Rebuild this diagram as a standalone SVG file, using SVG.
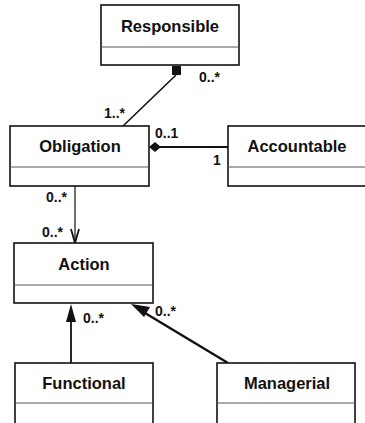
<svg xmlns="http://www.w3.org/2000/svg" width="365" height="423" viewBox="0 0 365 423">
<defs>
<style>
.box{fill:#fff;stroke:#111;stroke-width:1.6}
.div{stroke:#555;stroke-width:1}
.name{font-family:"Liberation Sans",Arial,sans-serif;font-weight:bold;font-size:16.5px;fill:#111;text-anchor:middle}
.mult{font-family:"Liberation Sans",Arial,sans-serif;font-weight:bold;font-size:14px;fill:#111}
.ln{stroke:#111;fill:none}
</style>
</defs>
<rect width="365" height="423" fill="#fff"/>
<g id="connectors">
<line class="ln" x1="176" y1="75" x2="122" y2="127" stroke-width="1.6"/>
<rect x="172" y="66" width="9" height="9" fill="#111"/>
<line class="ln" x1="160" y1="147" x2="228" y2="147" stroke-width="2.2"/>
<polygon points="149,147 155,142 161,147 155,152" fill="#111"/>
<line class="ln" x1="75" y1="186" x2="75" y2="243" stroke-width="1.2"/>
<polyline class="ln" points="71,229 75,243 79,229" stroke-width="1.8"/>
<line class="ln" x1="71" y1="363" x2="71" y2="320" stroke-width="1.8"/>
<polygon points="71,304 66,322 76,322" fill="#111"/>
<line class="ln" x1="228" y1="363" x2="145" y2="313" stroke-width="2.4"/>
<polygon points="131,304 150,307 144,317" fill="#111"/>
<text class="mult" x="199" y="82">0..*</text>
<text class="mult" x="104" y="118">1..*</text>
<text class="mult" x="155" y="138">0..1</text>
<text class="mult" x="213" y="165">1</text>
<text class="mult" x="46" y="202">0..*</text>
<text class="mult" x="42" y="237">0..*</text>
<text class="mult" x="83" y="323">0..*</text>
<text class="mult" x="155" y="316">0..*</text>
</g>
<g id="responsible">
<rect class="box" x="101" y="5" width="138" height="60"/>
<line class="div" x1="101" y1="47" x2="239" y2="47"/>
<text class="name" x="170" y="32">Responsible</text>
</g>
<g id="obligation">
<rect class="box" x="10" y="126" width="139" height="60"/>
<line class="div" x1="10" y1="167" x2="149" y2="167"/>
<text class="name" x="80" y="152">Obligation</text>
</g>
<g id="accountable">
<rect class="box" x="228" y="126" width="145" height="60"/>
<line class="div" x1="228" y1="167" x2="365" y2="167"/>
<text class="name" x="297" y="152">Accountable</text>
</g>
<g id="action">
<rect class="box" x="14" y="243" width="139" height="60"/>
<line class="div" x1="14" y1="285" x2="153" y2="285"/>
<text class="name" x="84" y="270">Action</text>
</g>
<g id="functional">
<rect class="box" x="15" y="363" width="138" height="70"/>
<line class="div" x1="15" y1="403" x2="153" y2="403"/>
<text class="name" x="84" y="389">Functional</text>
</g>
<g id="managerial">
<rect class="box" x="217" y="363" width="138" height="70"/>
<line class="div" x1="217" y1="403" x2="355" y2="403"/>
<text class="name" x="287" y="389">Managerial</text>
</g>
</svg>
